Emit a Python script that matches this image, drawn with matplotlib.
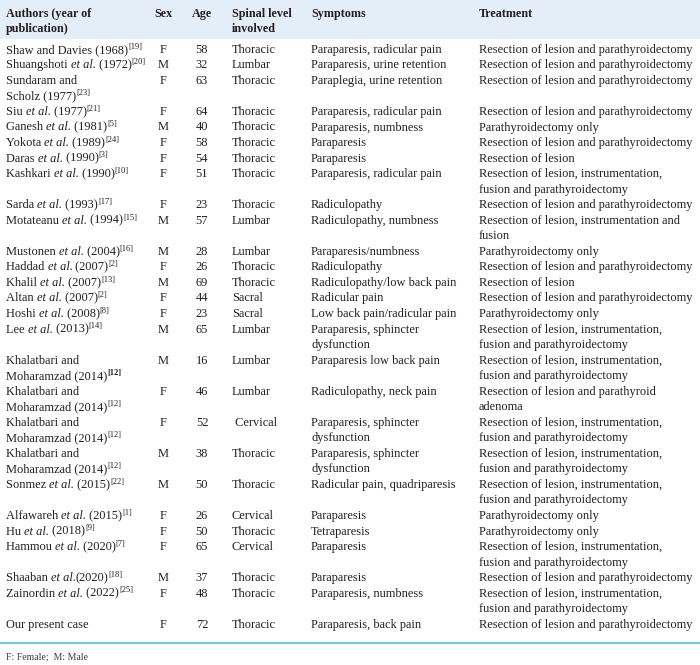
import re
import matplotlib
matplotlib.use("Agg")
import matplotlib.pyplot as plt
from matplotlib.patches import Rectangle

plt.rcParams['font.family'] = ['Liberation Serif', 'DejaVu Serif']

headers = ["Authors (year of\npublication)", "Sex", "Age", "Spinal level\ninvolved", "Symptoms", "Treatment"]

# markup: *italic*, ^{superscript}, ^!{bold superscript}
authors = [
    "Shaw and Davies (1968)^{[19]}",
    "Shuangshoti *et al.* (1972)^{[20]}",
    "Sundaram and\nScholz (1977)^{[23]}",
    "Siu *et al.* (1977)^{[21]}",
    "Ganesh *et al.* (1981)^{[5]}",
    "Yokota *et al.* (1989)^{[24]}",
    "Daras *et al.* (1990)^{[3]}",
    "Kashkari *et al.* (1990)^{[10]}",
    "Sarda *et al.* (1993)^{[17]}",
    "Motateanu *et al.* (1994)^{[15]}",
    "Mustonen *et al.* (2004)^{[16]}",
    "Haddad *et al.* (2007)^{[2]}",
    "Khalil *et al.* (2007)^{[13]}",
    "Altan *et al.* (2007)^{[2]}",
    "Hoshi *et al.* (2008)^{[8]}",
    "Lee *et al.* (2013)^{[14]}",
    "Khalatbari and\nMoharamzad (2014)^!{[12]}",
    "Khalatbari and\nMoharamzad (2014)^{[12]}",
    "Khalatbari and\nMoharamzad (2014)^{[12]}",
    "Khalatbari and\nMoharamzad (2014)^{[12]}",
    "Sonmez *et al.* (2015)^{[22]}",
    "Alfawareh *et al.* (2015)^{[1]}",
    "Hu *et al.* (2018)^{[9]}",
    "Hammou *et al.* (2020)^{[7]}",
    "Shaaban *et al.*(2020)^{[18]}",
    "Zainordin *et al.* (2022)^{[25]}",
    "Our present case",
]

sexes = ["F", "M", "F", "F", "M", "F", "F", "F", "F", "M", "M", "F", "M", "F",
         "F", "M", "M", "F", "F", "M", "M", "F", "F", "F", "M", "F", "F"]

ages = [58, 32, 63, 64, 40, 58, 54, 51, 23, 57, 28, 26, 69, 44, 23, 65, 16, 46,
        52, 38, 50, 26, 50, 65, 37, 48, 72]

levels = ["Thoracic", "Lumbar", "Thoracic", "Thoracic", "Thoracic", "Thoracic",
          "Thoracic", "Thoracic", "Thoracic", "Lumbar", "Lumbar", "Thoracic",
          "Thoracic", "Sacral", "Sacral", "Lumbar", "Lumbar", "Lumbar",
          " Cervical", "Thoracic", "Thoracic", "Cervical", "Thoracic",
          "Cervical", "Thoracic", "Thoracic", "Thoracic"]

symptoms = [
    "Paraparesis, radicular pain",
    "Paraparesis, urine retention",
    "Paraplegia, urine retention",
    "Paraparesis, radicular pain",
    "Paraparesis, numbness",
    "Paraparesis",
    "Paraparesis",
    "Paraparesis, radicular pain",
    "Radiculopathy",
    "Radiculopathy, numbness",
    "Paraparesis/numbness",
    "Radiculopathy",
    "Radiculopathy/low back pain",
    "Radicular pain",
    "Low back pain/radicular pain",
    "Paraparesis, sphincter\ndysfunction",
    "Paraparesis low back pain",
    "Radiculopathy, neck pain",
    "Paraparesis, sphincter\ndysfunction",
    "Paraparesis, sphincter\ndysfunction",
    "Radicular pain, quadriparesis",
    "Paraparesis",
    "Tetraparesis",
    "Paraparesis",
    "Paraparesis",
    "Paraparesis, numbness",
    "Paraparesis, back pain",
]

RLP = "Resection of lesion and parathyroidectomy"
RIF = "Resection of lesion, instrumentation,\nfusion and parathyroidectomy"
PTO = "Parathyroidectomy only"
treatments = [
    RLP, RLP, RLP, RLP, PTO, RLP, "Resection of lesion", RIF, RLP,
    "Resection of lesion, instrumentation and\nfusion", PTO, RLP,
    "Resection of lesion", RLP, PTO, RIF, RIF,
    "Resection of lesion and parathyroid\nadenoma", RIF, RIF, RIF, PTO, PTO,
    RIF, RLP, RIF, RLP,
]

footnote = "F: Female;  M: Male"

W, H = 700, 665
fig = plt.figure(figsize=(W / 100, H / 100), dpi=100)
ax = fig.add_axes([0, 0, 1, 1])
ax.set_xlim(0, W)
ax.set_ylim(H, 0)
ax.axis('off')
renderer = fig.canvas.get_renderer()

TXT = '#231f20'
FS = 8.9
HFS = 8.7
SUPFS = 6.1
HEAD_BG = '#e3eef8'
LINE_C = '#5cc3ec'


def text_width(s, **kw):
    t = ax.text(0, 0, "|" + s + "|", **kw)
    w1 = t.get_window_extent(renderer).width
    t.set_text("||")
    w0 = t.get_window_extent(renderer).width
    t.remove()
    return w1 - w0


def rich(x, y, s, fs):
    parts = [p for p in re.split(r'(\*[^*]+\*|\^!?\{[^}]*\})', s) if p]
    for p in parts:
        kw = dict(fontsize=fs, color=TXT)
        dy = 0
        if p.startswith('*'):
            p = p[1:-1]
            kw['fontstyle'] = 'italic'
        elif p.startswith('^!'):
            p = p[3:-1]
            kw.update(fontsize=SUPFS, fontweight='bold')
            dy = -4.2
        elif p.startswith('^'):
            p = p[2:-1]
            kw.update(fontsize=SUPFS)
            dy = -4.2
        ax.text(x, y + dy, p, ha='left', va='baseline', **kw)
        x += text_width(p, **kw)


# column layout: (x, ha)
cols = [(6, 'left'), (163, 'center'), (202, 'center'), (232, 'left'), (311, 'left'), (479, 'left')]

ax.add_patch(Rectangle((0, 0), W, 38.5, facecolor=HEAD_BG, edgecolor='none'))

hb = [16.7, 32.4]
for (x, ha), h in zip(cols, headers):
    for k, ln in enumerate(h.split("\n")):
        ax.text(x, hb[k], ln, ha=ha, va='baseline', fontsize=HFS,
                fontweight='bold', color=TXT)

base0 = 52.8
step = 15.54
line = 0
for i in range(len(authors)):
    cells = [authors[i], sexes[i], str(ages[i]), levels[i], symptoms[i], treatments[i]]
    nl = max(c.count("\n") + 1 for c in cells)
    for j, ((x, ha), c) in enumerate(zip(cols, cells)):
        for k, ln in enumerate(c.split("\n")):
            y = base0 + (line + k) * step
            if j == 0:
                rich(x, y, ln, FS)
            else:
                ax.text(x, y, ln, ha=ha, va='baseline', fontsize=FS, color=TXT)
    line += nl

ax.plot([0, W], [642.7, 642.7], color=LINE_C, lw=1.3)
ax.text(6, 660.0, footnote, ha='left', va='baseline', fontsize=7.0, color='#3a3a3a')

fig.savefig("out.png", dpi=100)
